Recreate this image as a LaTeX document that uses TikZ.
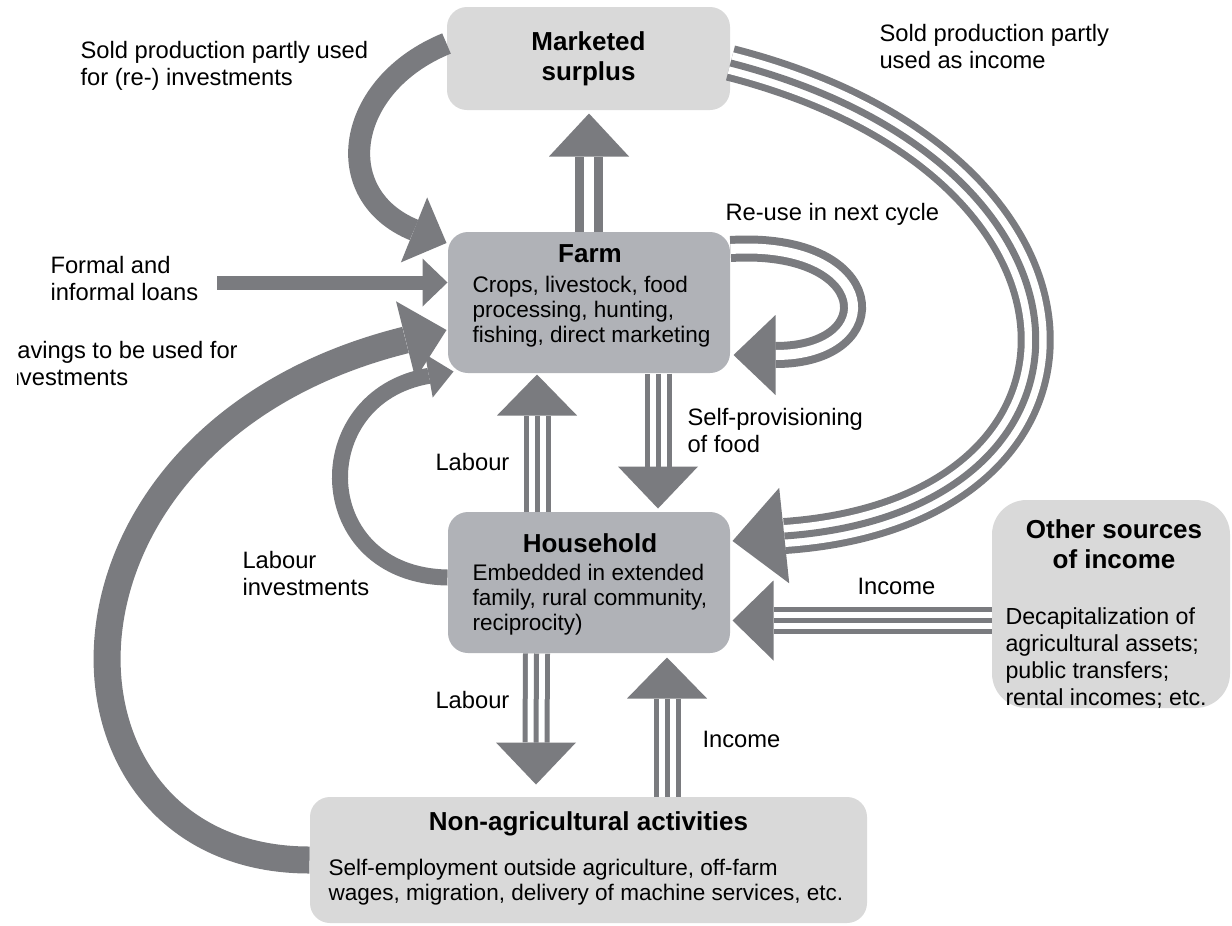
\documentclass[tikz,border=0pt]{standalone}
\usepackage{fontspec}
\setmainfont{Liberation Sans}
\usetikzlibrary{calc}

\definecolor{arrowgray}{RGB}{122,123,127}
\definecolor{boxlight}{RGB}{217,217,217}
\definecolor{boxdark}{RGB}{176,178,183}

\newcommand{\titlefont}{\fontsize{19.5}{22.5}\selectfont\bfseries}
\newcommand{\bodyfont}{\fontsize{16.9}{18.75}\selectfont}
\newcommand{\lblfont}{\fontsize{17.8}{20.25}\selectfont}
% filled head: tip, angle, length, half width
\newcommand{\ahead}[4]{\fill[arrowgray, shift={(#1)}, rotate=#2] (0,0) -- (-#3,#4) -- (-#3,-#4) -- cycle;}

\tikzset{every picture/.style={line width=0.75pt}}
\tikzset{
  lightbox/.style={fill=boxlight, rounded corners=15pt, inner sep=0pt},
  darkbox/.style={fill=boxdark, rounded corners=15pt, inner sep=0pt},
  lbl/.style={anchor=north west, inner sep=0pt, align=left, font=\lblfont},
  boxtext/.style={anchor=north west, inner sep=0pt, align=left, font=\bodyfont},
  boxtitle/.style={anchor=base, inner sep=0pt, font=\titlefont},
  band/.style={draw=arrowgray, line width=#1},
  twoline/.style={draw=arrowgray, line width=21pt, postaction={draw=white, line width=7.5pt}},
  twoloop/.style={draw=arrowgray, line width=19.5pt, postaction={draw=white, line width=7.5pt}},
  threeline/.style={draw=arrowgray, line width=20.25pt, postaction={draw=white, line width=12.75pt}, postaction={draw=arrowgray, line width=3.75pt}},
  threewide/.style={draw=arrowgray, line width=27pt, postaction={draw=white, line width=16.5pt}, postaction={draw=arrowgray, line width=5.25pt}}
}

\begin{document}
\begin{tikzpicture}[x=0.75pt,y=0.75pt,yscale=-1,xscale=1]
	\path[fill=white, use as bounding box] (0,0) rectangle (1232,925);
	
	%Boxes
	\node[lightbox, minimum width=212.25pt, minimum height=77.25pt, font=\titlefont, align=center] (market) at (588.5,58.5) {Marketed\\surplus};
	\node[darkbox, minimum width=211.5pt, minimum height=105.75pt] (farm) at (589,302.5) {};
	\node[darkbox, minimum width=211.5pt, minimum height=105.75pt] (house) at (589,582.5) {};
	\node[lightbox, rounded corners=26pt, minimum width=178.5pt, minimum height=156pt] (other) at (1111,604) {};
	\node[lightbox, minimum width=417.75pt, minimum height=94.5pt] (nonagri) at (588.5,860) {};
	
	% Box texts
	\node[boxtitle] (farmtitle) at (590,262) {Farm};
	\node[boxtext] (farmtext) at (472,275.6) {Crops, livestock, food\\processing, hunting,\\fishing, direct marketing};
	\node[boxtitle] (housetitle) at (590,552) {Household};
	\node[boxtext] (housetext) at (472,563.6) {Embedded in extended\\family, rural community,\\reciprocity)};
	\node[boxtitle, anchor=north, align=center] (othertitle) at (1114,519.5) {Other sources\\of income};
	\node[boxtext, font=\fontsize{17.4}{20.25}\selectfont] (othertext) at (1005,607) {Decapitalization of\\agricultural assets;\\public transfers;\\rental incomes; etc.};
	\node[boxtitle] (nonagrititle) at (588.5,830) {Non-agricultural activities};
	\node[boxtext] (nonagritext) at (328,858.6) {Self-employment outside agriculture, off-farm\\wages, migration, delivery of machine services, etc.};
	
	%Farm to marketed surplus
	\coordinate (mktip) at ($(market.south)+(0.5,3)$);
	\coordinate (mkbase) at ($(mktip)+(0,43)$);
	\draw[twoline] (farm.north) -- (mkbase);
	\ahead{mktip}{-90}{43}{40}
	
	%Labour up
	\coordinate (lutip) at ($(farm.south)+(-52,1)$);
	\coordinate (lubase) at ($(lutip)+(0,41)$);
	\draw[threeline] ($(house.north)+(-52,0)$) -- (lubase);
	\ahead{lutip}{-90}{41}{40}
	
	%Self-provisioning
	\coordinate (sptip) at ($(house.north)+(69,-3)$);
	\coordinate (spbase) at ($(sptip)+(0,-42)$);
	\draw[threeline] ($(farm.south)+(69,0)$) -- (spbase);
	\ahead{sptip}{90}{42}{40}
	
	%Labour down
	\coordinate (ldtip) at ($(nonagri.north)+(-52.5,-12)$);
	\coordinate (ldbase) at ($(ldtip)+(0,-42)$);
	\draw[threeline] ($(house.south)+(-52.5,0)$) -- (ldbase);
	\ahead{ldtip}{90}{42}{40}
	
	%Income up
	\coordinate (iutip) at ($(house.south)+(78,4)$);
	\coordinate (iubase) at ($(iutip)+(0,41)$);
	\draw[threeline] ($(nonagri.north)+(78.5,0)$) -- (iubase);
	\ahead{iutip}{-90}{41}{40}
	
	%Income from other sources
	\coordinate (iltip) at ($(house.east)+(2,38)$);
	\coordinate (ilbase) at ($(iltip)+(41,0)$);
	\draw[threeline] ($(other.west)+(0,16.5)$) -- (ilbase);
	\ahead{iltip}{180}{41}{40}
	
	%Sold production as income
	\coordinate (sutip) at ($(house.east)+(2,-41.5)$);
	\coordinate (subase) at ($(sutip)+(52,-5)$);
	\draw[threewide] ($(market.east)+(0,4.5)$) .. controls (1128,165) and (1128,512) .. (subase);
	\ahead{sutip}{174}{52}{48}
	
	%Re-use loop
	\coordinate (rutip) at ($(farm.east)+(3,52.5)$);
	\coordinate (rubase) at ($(rutip)+(42,0)$);
	\draw[twoloop] ($(farm.east)+(0,-53.5)$) .. controls (880,240) and (890,355) .. (rubase);
	\ahead{rutip}{180}{42}{40}
	
	%Re-investments
	\coordinate (ritip) at ($(farm.west)+(-1,-59.5)$);
	\coordinate (ribase) at ($(ritip)+(-32.5,-13)$);
	\draw[band=16.5pt] ($(market.west)+(0,-15)$) .. controls (345,85) and (329,195) .. (ribase);
	\ahead{ritip}{22}{35}{35}
	
	%Loans
	\coordinate (loanstart) at (217,282.5);
	\coordinate (lotip) at ($(farm.west)+(0,-20)$);
	\coordinate (lobase) at ($(lotip)+(-25,0)$);
	\draw[band=10.5pt] (loanstart) -- (lobase);
	\ahead{lotip}{0}{25}{24}
	
	%Savings
	\coordinate (satip) at ($(farm.west)+(-1,27.5)$);
	\coordinate (sabase) at ($(satip)+(-41,10)$);
	\draw[band=20.25pt] (nonagri.west) .. controls (30,860) and (20,436) .. (sabase);
	\ahead{satip}{-14}{42}{40}
	
	%Labour investments
	\coordinate (litip) at ($(farm.south west)+(6,-2)$);
	\coordinate (libase) at ($(litip)+(-24.6,4.3)$);
	\draw[band=12pt] ($(house.west)+(0,-5)$) .. controls (310,575) and (305,397) .. (libase);
	\ahead{litip}{-10}{25}{22}
	
	% Labels
	\node[lbl] (reinvlbl) at (80,40.5) {Sold production partly used\\for (re-) investments};
	\node[lbl] (incomelbl) at (879,23.5) {Sold production partly\\used as income};
	\node[lbl] (reuselbl) at (725,202.5) {Re-use in next cycle};
	\node[lbl] (loanlbl) at (50,255.5) {Formal and\\informal loans};
	\begin{scope}
		\clip (17,320) rectangle (330,400);
		\node[lbl] (savlbl) at (1,340.5) {Savings to be used for\\investments};
	\end{scope}
	\node[lbl] (labuplbl) at (435,452.5) {Labour};
	\node[lbl] (provlbl) at (687,407.5) {Self-provisioning\\of food};
	\node[lbl] (labinvlbl) at (242,550.5) {Labour\\investments};
	\node[lbl] (incrlbl) at (857,578) {Income};
	\node[lbl] (labdnlbl) at (435,690.5) {Labour};
	\node[lbl] (incuplbl) at (702,730.5) {Income};
	
\end{tikzpicture}
\end{document}
